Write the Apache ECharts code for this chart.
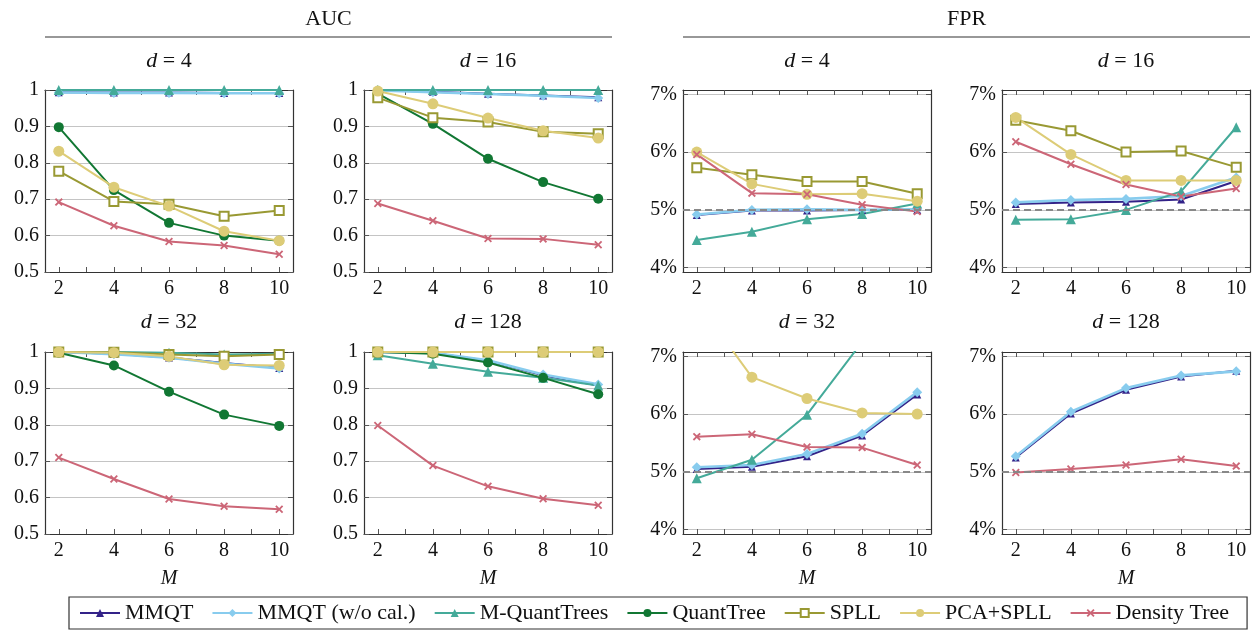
<!DOCTYPE html>
<html><head><meta charset="utf-8">
<script src="https://cdn.jsdelivr.net/npm/echarts@6/dist/echarts.min.js"></script>
<style>html,body{margin:0;padding:0;background:#fff}#c{width:1252px;height:631px}</style>
</head><body><div id="c"></div>
<script>
// ---------- data ----------
const M = [2, 4, 6, 8, 10];
const DIMS = ['4', '16', '32', '128'];
const METHODS = ['MMQT', 'MMQT (w/o cal.)', 'M-QuantTrees', 'QuantTree', 'SPLL', 'PCA+SPLL', 'Density Tree'];
const X_TICKS = [2, 3, 4, 5, 6, 7, 8, 9, 10];
const X_LABELS = [2, 4, 6, 8, 10];
const AUC_TICKS = [0.5, 0.6, 0.7, 0.8, 0.9, 1];
const FPR_TICKS = [4, 5, 6, 7];
const FPR_TARGET = 5;

// AUC values, one row per d = 4, 16, 32, 128
const AUC_MMQT = [
  [0.994, 0.993, 0.993, 0.992, 0.992],
  [0.999, 0.995, 0.990, 0.985, 0.980],
  [1.000, 0.995, 0.985, 0.970, 0.956],
  [1.000, 0.997, 0.976, 0.936, 0.908]];
const AUC_MMQT_NOCAL = [
  [0.993, 0.992, 0.992, 0.991, 0.991],
  [0.999, 0.994, 0.989, 0.984, 0.978],
  [1.000, 0.994, 0.984, 0.968, 0.955],
  [1.000, 0.998, 0.977, 0.938, 0.911]];
const AUC_MQT = [
  [1.000, 1.000, 1.000, 1.000, 1.000],
  [1.000, 1.000, 1.000, 1.000, 1.000],
  [1.000, 1.000, 0.998, 0.993, 0.995],
  [0.991, 0.968, 0.946, 0.929, 0.908]];
const AUC_QT = [
  [0.898, 0.725, 0.635, 0.600, 0.586],
  [0.990, 0.907, 0.811, 0.747, 0.701],
  [0.998, 0.963, 0.891, 0.828, 0.797],
  [1.000, 0.995, 0.971, 0.929, 0.884]];
const AUC_SPLL = [
  [0.777, 0.694, 0.686, 0.653, 0.669],
  [0.979, 0.924, 0.912, 0.885, 0.880],
  [1.000, 0.999, 0.993, 0.988, 0.993],
  [1.000, 1.000, 1.000, 1.000, 1.000]];
const AUC_PCASPLL = [
  [0.832, 0.733, 0.681, 0.612, 0.586],
  [0.997, 0.962, 0.923, 0.888, 0.868],
  [1.000, 0.998, 0.988, 0.965, 0.963],
  [1.000, 1.000, 1.000, 1.000, 1.000]];
const AUC_DT = [
  [0.692, 0.627, 0.584, 0.573, 0.549],
  [0.688, 0.641, 0.592, 0.591, 0.575],
  [0.710, 0.651, 0.596, 0.576, 0.568],
  [0.798, 0.688, 0.631, 0.597, 0.579]];

// FPR values in %, one row per d = 4, 16, 32, 128 (null = not drawn)
const FPR_MMQT = [
  [4.91, 4.99, 4.99, 5.00, 5.00],
  [5.10, 5.13, 5.14, 5.18, 5.50],
  [5.05, 5.09, 5.27, 5.63, 6.34],
  [5.25, 6.01, 6.42, 6.65, 6.75]];
const FPR_MMQT_NOCAL = [
  [4.92, 5.00, 5.01, 5.00, 5.01],
  [5.13, 5.17, 5.19, 5.24, 5.56],
  [5.08, 5.12, 5.31, 5.66, 6.38],
  [5.27, 6.04, 6.45, 6.67, 6.74]];
const FPR_MQT = [
  [4.48, 4.62, 4.84, 4.93, 5.11],
  [4.83, 4.84, 5.00, 5.32, 6.43],
  [4.89, 5.21, 5.99, 7.25, 9.00],
  null];
const FPR_QT = [null, null, null, null];
const FPR_SPLL = [
  [5.73, 5.61, 5.49, 5.49, 5.28],
  [6.55, 6.37, 6.00, 6.02, 5.74],
  null,
  null];
const FPR_PCASPLL = [
  [6.00, 5.45, 5.27, 5.28, 5.15],
  [6.60, 5.96, 5.51, 5.51, 5.51],
  [7.95, 6.64, 6.27, 6.02, 6.00],
  null];
const FPR_DT = [
  [5.96, 5.29, 5.27, 5.09, 4.97],
  [6.18, 5.79, 5.44, 5.23, 5.37],
  [5.61, 5.65, 5.43, 5.42, 5.12],
  [4.99, 5.05, 5.12, 5.22, 5.10]];

const AUC_DATA = [AUC_MMQT, AUC_MMQT_NOCAL, AUC_MQT, AUC_QT, AUC_SPLL, AUC_PCASPLL, AUC_DT];
const FPR_DATA = [FPR_MMQT, FPR_MMQT_NOCAL, FPR_MQT, FPR_QT, FPR_SPLL, FPR_PCASPLL, FPR_DT];

// ---------- styles ----------
const SERIF = '"Liberation Serif", "DejaVu Serif", serif';
const XMARK = 'path://M0,1.6 L1.6,0 L5,3.4 L8.4,0 L10,1.6 L6.6,5 L10,8.4 L8.4,10 L5,6.6 L1.6,10 L0,8.4 L3.4,5 Z';
const STYLES = [
  {color: '#332288', symbol: 'triangle', size: 8, width: 2},
  {color: '#88CCEE', symbol: 'diamond', size: 10, width: 2.6},
  {color: '#44AA99', symbol: 'triangle', size: 10, width: 2},
  {color: '#117733', symbol: 'circle', size: 10, width: 2},
  {color: '#999933', symbol: 'emptyRect', size: 9, width: 2},
  {color: '#DDCC77', symbol: 'circle', size: 11, width: 2},
  {color: '#CC6677', symbol: XMARK, size: 8, width: 2}
];

const COL_LEFT = [45, 364, 683, 1002];
const ROW_TOP = [90, 352];
const GW = 248, GH = 182;

const chart = echarts.init(document.getElementById('c'), null, {renderer: 'canvas'});

const grids = [], xAxes = [], yAxes = [], series = [], graphics = [];
const panels = [];
for (let row = 0; row < 2; row++) {
  for (let col = 0; col < 4; col++) {
    const metric = col < 2 ? 'AUC' : 'FPR';
    const di = row * 2 + (col % 2);
    panels.push({row, col, metric, di});
  }
}

panels.forEach((p, gi) => {
  grids.push({left: COL_LEFT[p.col], top: ROW_TOP[p.row], width: GW, height: GH,
    show: false, containLabel: false});
  const isAUC = p.metric === 'AUC';
  const ymin = isAUC ? 0.5 : 3.925, ymax = isAUC ? 1 : 7.075;
  const yTicks = isAUC ? AUC_TICKS : FPR_TICKS;
  const frame = {show: true, onZero: false, lineStyle: {color: '#333', width: 1.2}};
  const tick = (vals) => ({show: true, inside: true, length: 5, customValues: vals, lineStyle: {color: '#555', width: 1}});
  xAxes.push({type: 'value', gridIndex: gi, position: 'bottom', min: 1.5, max: 10.5,
    axisLine: frame, axisTick: tick(X_TICKS),
    axisLabel: {customValues: X_LABELS, fontFamily: SERIF, fontSize: 20, color: '#111', margin: 7},
    splitLine: {show: false}});
  xAxes.push({type: 'value', gridIndex: gi, position: 'top', min: 1.5, max: 10.5,
    axisLine: frame, axisTick: tick(X_TICKS), axisLabel: {show: false}, splitLine: {show: false}});
  yAxes.push({type: 'value', gridIndex: gi, position: 'left', min: ymin, max: ymax,
    axisLine: frame, axisTick: tick(yTicks),
    axisLabel: {customValues: yTicks, fontFamily: SERIF, fontSize: 20, color: '#111', margin: 6,
      formatter: v => isAUC ? String(+v.toFixed(1)) : (+v.toFixed(0)) + '%'},
    splitLine: {show: true, lineStyle: {color: '#c4c4c4', width: 1}}});
  yAxes.push({type: 'value', gridIndex: gi, position: 'right', min: ymin, max: ymax,
    axisLine: frame, axisTick: tick(yTicks), axisLabel: {show: false}, splitLine: {show: false}});

  if (!isAUC) {
    series.push({type: 'line', name: 'ref', xAxisIndex: gi * 2, yAxisIndex: gi * 2, data: [],
      silent: true,
      markLine: {silent: true, symbol: 'none', label: {show: false},
        lineStyle: {type: [7, 4], color: '#888', width: 2},
        data: [{yAxis: FPR_TARGET}]}});
  }
  const src = isAUC ? AUC_DATA : FPR_DATA;
  METHODS.forEach((name, mi) => {
    const vals = src[mi][p.di];
    if (!vals) return;
    const st = STYLES[mi];
    series.push({
      type: 'line', name, xAxisIndex: gi * 2, yAxisIndex: gi * 2,
      data: M.map((m, k) => [m, vals[k]]),
      symbol: st.symbol, symbolSize: st.size, showAllSymbol: true,
      clip: true, animation: false,
      lineStyle: {color: st.color, width: st.width},
      itemStyle: {color: st.color, borderColor: st.color, borderWidth: st.symbol === 'emptyRect' ? 2 : 0},
      emphasis: {disabled: true}
    });
  });

  // panel title
  const cx = COL_LEFT[p.col] + GW / 2;
  graphics.push({type: 'text', x: cx, y: p.row === 0 ? 61 : 322,
    style: {text: '{i|d} = ' + DIMS[p.di], textAlign: 'center', textVerticalAlign: 'middle',
      font: '22px ' + SERIF, fill: '#111',
      rich: {i: {fontStyle: 'italic', fontFamily: SERIF, fontSize: 22}}}});
  if (p.row === 1) {
    graphics.push({type: 'text', x: cx, y: 579,
      style: {text: 'M', textAlign: 'center', textVerticalAlign: 'middle',
        font: 'italic 20px ' + SERIF, fill: '#111'}});
  }
});

// group headers
[['AUC', 45, 612], ['FPR', 683, 1250]].forEach(([t, l, r]) => {
  graphics.push({type: 'text', x: (l + r) / 2, y: 19,
    style: {text: t, textAlign: 'center', textVerticalAlign: 'middle', font: '22px ' + SERIF, fill: '#111'}});
  graphics.push({type: 'line', shape: {x1: l, y1: 37, x2: r, y2: 37},
    style: {stroke: '#333', lineWidth: 1.2}});
});

chart.setOption({
  animation: false,
  backgroundColor: '#fff',
  grid: grids, xAxis: xAxes, yAxis: yAxes, series,
  graphic: graphics,
  legend: {
    data: METHODS, left: 69, top: 597, width: 1200, orient: 'horizontal',
    itemWidth: 40, itemHeight: 10, itemGap: 18,
    padding: [5, 18, 5, 10],
    borderColor: '#333', borderWidth: 1.2,
    textStyle: {fontFamily: SERIF, fontSize: 22, color: '#111'}
  }
});
</script></body></html>
